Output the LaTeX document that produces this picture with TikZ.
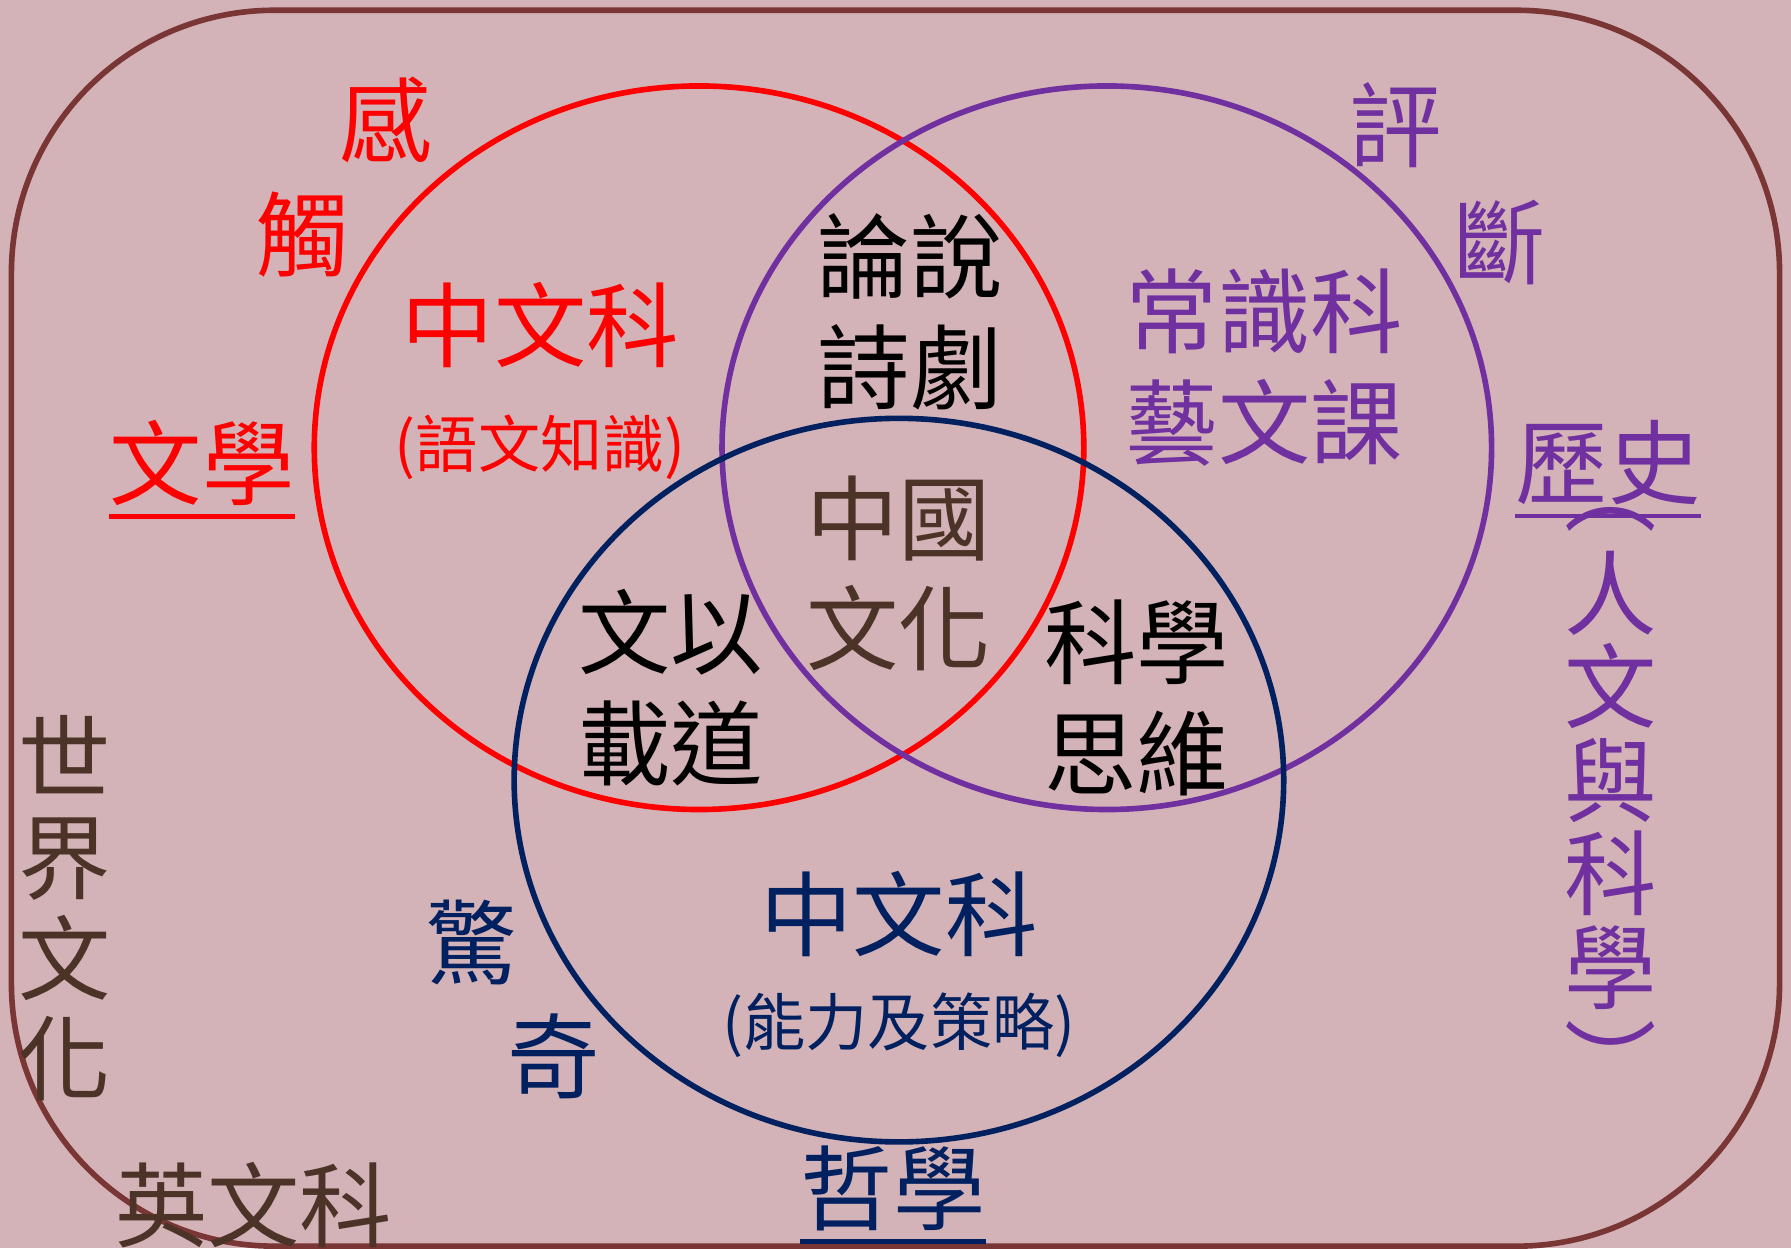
\documentclass[tikz,border=0pt]{standalone}
\usepackage{fontspec}
\newfontfamily\cjk{Noto Sans CJK TC}
\usetikzlibrary{positioning, shapes.geometric}
\definecolor{bgpink}{HTML}{D3B3B7}
\definecolor{framebrown}{HTML}{7A3535}
\definecolor{setred}{HTML}{FF0000}
\definecolor{setpurple}{HTML}{7030A0}
\definecolor{setnavy}{HTML}{002060}
\definecolor{textbrown}{HTML}{4B3327}

\tikzset{
  bigtxt/.style={font=\cjk\fontsize{26.3}{31.5}\selectfont, align=center, inner sep=0pt},
  smalltxt/.style={font=\cjk\fontsize{17.7}{20}\selectfont, inner sep=0pt},
  vertxt/.style={align=center, inner sep=0pt},
  setring/.style={draw, ellipse, line width=1.6pt, minimum width=7.70cm, minimum height=7.24cm, inner sep=0pt},
  ulstroke/.style={line width=1.3pt}
}

\begin{document}
\begin{tikzpicture}[x=0.011422cm, y=-0.011422cm]
				\fill[bgpink] (0,0) rectangle (1568,1093);
				\useasboundingbox (0,0) rectangle (1568,1093);
				\draw[framebrown, line width=1.6pt, rounded corners=2.63cm] (10,9) rectangle (1558,1091);
				
				% the three sets
				\node[setring, setred] (lit) at (612,392) {};
				\node[setring, setpurple] (gen) at (969,392) {};
				\node[setring, setnavy] (phil) at (787,683) {};
				
				% red set
				\node[bigtxt, setred] (gan) at (338,105) {感};
				\node[bigtxt, setred] (chu) at (265,205) {觸};
				\node[bigtxt, setred] (wenxue) at (177,405) {文學};
				\draw[ulstroke, setred] ([yshift=-3pt]wenxue.south west) -- ([yshift=-3pt]wenxue.south east);
				\node[bigtxt, setred] (zhongwen) at (473,285) {中文科};
				\node[smalltxt, setred, below=0.45cm of zhongwen] (yuwen) {(語文知識)};
				
				% purple set
				\node[bigtxt, setpurple] (ping) at (1222,110) {評};
				\node[bigtxt, setpurple] (duan) at (1313,212) {斷};
				\node[bigtxt, setpurple] (changshi) at (1107,322) {常識科\\藝文課};
				\node[bigtxt, setpurple] (lishi) at (1408,405) {歷史};
				\draw[ulstroke, setpurple] ([yshift=-3pt]lishi.south west) -- ([yshift=-3pt]lishi.south east);
				\node[bigtxt, setpurple] (brtop) at (1410,455) {︵};
				\node[vertxt, setpurple, font=\cjk\fontsize{26.3}{26.6}\selectfont] (renwen) at (1410,683) {人\\文\\與\\科\\學};
				\node[bigtxt, setpurple] (brbot) at (1410,928) {︶};
				
				% overlaps
				\node[bigtxt, black] (lunshuo) at (797,273) {論說\\詩劇};
				\node[bigtxt, textbrown] (zhongguo) at (787,502) {中國\\文化};
				\node[bigtxt, black] (wenyi) at (587,602) {文以\\載道};
				\node[bigtxt, black] (kexue) at (995,611) {科學\\思維};
				
				% navy set
				\node[bigtxt, setnavy] (zhongwenb) at (787,800) {中文科};
				\node[smalltxt, setnavy, below=0.35cm of zhongwenb] (nengli) {(能力及策略)};
				\node[bigtxt, setnavy] (jing) at (413,825) {驚};
				\node[bigtxt, setnavy] (qi) at (485,925) {奇};
				\node[bigtxt, setnavy] (zhexue) at (782,1040) {哲學};
				\draw[ulstroke, setnavy] ([yshift=-3pt]zhexue.south west) -- ([yshift=-3pt]zhexue.south east);
				
				% outside
				\node[vertxt, textbrown, font=\cjk\fontsize{26.3}{28.6}\selectfont] (shijie) at (57,795) {世\\界\\文\\化};
				\node[bigtxt, textbrown] (yingwen) at (222,1055) {英文科};
\end{tikzpicture}
\end{document}
